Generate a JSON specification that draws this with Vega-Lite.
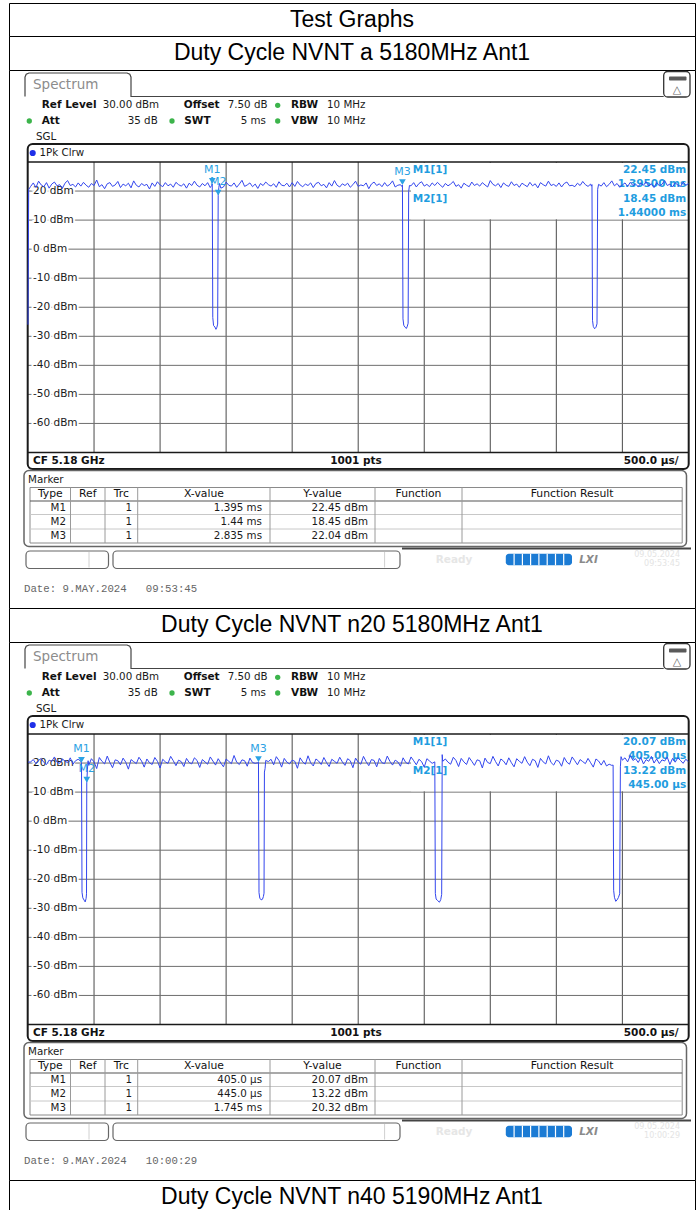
{
"$schema":"https://vega.github.io/schema/vega-lite/v6.json",
"background":"white",
"padding":{"left":8,"top":2,"right":0,"bottom":0},
"spacing":0,
"bounds":"flush",
"config":{"view":{"stroke":null},"text":{"font":"DejaVu Sans"}},
"datasets":{
"titles":[{"row":"Test Graphs"},{"row":"Duty Cycle NVNT a 5180MHz Ant1"},{"row":"Duty Cycle NVNT n20 5180MHz Ant1"},{"row":"Duty Cycle NVNT n40 5190MHz Ant1"}],
"vgrid":[{"ms":0.5},{"ms":1},{"ms":1.5},{"ms":2},{"ms":2.5},{"ms":3},{"ms":3.5},{"ms":4},{"ms":4.5}],
"hgrid":[{"dbm":20,"label":"20 dBm"},{"dbm":10,"label":"10 dBm"},{"dbm":0,"label":"0 dBm"},{"dbm":-10,"label":"-10 dBm"},{"dbm":-20,"label":"-20 dBm"},{"dbm":-30,"label":"-30 dBm"},{"dbm":-40,"label":"-40 dBm"},{"dbm":-50,"label":"-50 dBm"},{"dbm":-60,"label":"-60 dBm"}],
"infobox":[{"item":"marker info"}],
"tabline":[{"k":0,"cx":16,"cy":26.5},{"k":1,"cx":16,"cy":7},{"k":2,"cx":17.2,"cy":4.2},{"k":3,"cx":20,"cy":3},{"k":4,"cx":118,"cy":3},{"k":5,"cx":120.8,"cy":4.2},{"k":6,"cx":122,"cy":7},{"k":7,"cx":122,"cy":26.5},{"k":8,"cx":654.7,"cy":26.5}],
"boxes":[{"kind":"icon","l":654.7,"r":681,"t":1.5,"b":27},{"kind":"battery","l":660,"r":677.5,"t":6.5,"b":10.5},{"kind":"frame","l":18.7,"r":679.7,"t":74,"b":399},{"kind":"mbox","l":15,"r":677.5,"t":400.5,"b":476.5},{"kind":"table","l":21,"r":673.2,"t":417.5,"b":473},{"kind":"status","l":17,"r":99.5,"t":481,"b":498.5},{"kind":"status","l":104,"r":391,"t":481,"b":498.5},{"kind":"bar","l":496.8,"r":563,"t":483.7,"b":495.3}],
"rules":[{"kind":"sep","l":18.7,"r":679.7,"t":92,"b":92},{"kind":"sep","l":18.7,"r":679.7,"t":382.5,"b":382.5},{"kind":"thead","l":21,"r":673.2,"t":431,"b":431},{"kind":"trow","l":21,"r":673.2,"t":444.5,"b":444.5},{"kind":"trow","l":21,"r":673.2,"t":459,"b":459},{"kind":"tcol","l":61.5,"r":61.5,"t":417.5,"b":473},{"kind":"tcol","l":96,"r":96,"t":417.5,"b":473},{"kind":"tcol","l":128.7,"r":128.7,"t":417.5,"b":473},{"kind":"tcol","l":261,"r":261,"t":417.5,"b":473},{"kind":"tcol","l":366,"r":366,"t":417.5,"b":473},{"kind":"tcol","l":453,"r":453,"t":417.5,"b":473},{"kind":"sdiv","l":80,"r":80,"t":482,"b":497.5},{"kind":"sdiv","l":375.6,"r":375.6,"t":482,"b":497.5},{"kind":"sline","l":393,"r":682,"t":478.5,"b":478.5},{"kind":"bardiv","l":505.1,"r":505.1,"t":483.7,"b":495.3},{"kind":"bardiv","l":513.4,"r":513.4,"t":483.7,"b":495.3},{"kind":"bardiv","l":521.6,"r":521.6,"t":483.7,"b":495.3},{"kind":"bardiv","l":529.9,"r":529.9,"t":483.7,"b":495.3},{"kind":"bardiv","l":538.2,"r":538.2,"t":483.7,"b":495.3},{"kind":"bardiv","l":546.5,"r":546.5,"t":483.7,"b":495.3},{"kind":"bardiv","l":554.7,"r":554.7,"t":483.7,"b":495.3}],
"dots":[{"kind":"green","cx":268.7,"cy":35.3},{"kind":"green","cx":20.3,"cy":51},{"kind":"green","cx":163,"cy":51},{"kind":"green","cx":268.7,"cy":51},{"kind":"blue","cx":23.7,"cy":83}],
"texts":[
{"scr":"all","kind":"tab","text":"Spectrum","cx":24,"cy":15},
{"scr":"all","kind":"icon","text":"△","cx":668,"cy":19.5},
{"scr":"all","kind":"ib","text":"Ref Level","cx":32.7,"cy":35.3},
{"scr":"all","kind":"ib","text":"Offset","cx":174.7,"cy":35.3},
{"scr":"all","kind":"ib","text":"RBW","cx":282,"cy":35.3},
{"scr":"all","kind":"ib","text":"Att","cx":32.7,"cy":51},
{"scr":"all","kind":"ib","text":"SWT","cx":175.3,"cy":51},
{"scr":"all","kind":"ib","text":"VBW","cx":282,"cy":51},
{"scr":"all","kind":"ib","text":"CF 5.18 GHz","cx":24,"cy":391},
{"scr":"all","kind":"iv","text":"30.00 dBm","cx":93.7,"cy":35.3},
{"scr":"all","kind":"iv","text":"7.50 dB","cx":218.7,"cy":35.3},
{"scr":"all","kind":"iv","text":"10 MHz","cx":318,"cy":35.3},
{"scr":"all","kind":"iv","text":"10 MHz","cx":318,"cy":51},
{"scr":"all","kind":"iv","text":"SGL","cx":27,"cy":67},
{"scr":"all","kind":"iv","text":"1Pk Clrw","cx":30.5,"cy":83},
{"scr":"all","kind":"iv","text":"Marker","cx":19,"cy":409.5},
{"scr":"all","kind":"r","text":"35 dB","cx":148.7,"cy":51},
{"scr":"all","kind":"r","text":"5 ms","cx":257,"cy":51},
{"scr":"all","kind":"ftc","text":"1001 pts","cx":347,"cy":391},
{"scr":"all","kind":"ftr","text":"500.0 µs/","cx":669.5,"cy":391},
{"scr":"all","kind":"th","text":"Type","cx":41.3,"cy":424},
{"scr":"all","kind":"th","text":"Ref","cx":78.8,"cy":424},
{"scr":"all","kind":"th","text":"Trc","cx":112.4,"cy":424},
{"scr":"all","kind":"th","text":"X-value","cx":194.9,"cy":424},
{"scr":"all","kind":"th","text":"Y-value","cx":313.5,"cy":424},
{"scr":"all","kind":"th","text":"Function","cx":409.5,"cy":424},
{"scr":"all","kind":"th","text":"Function Result","cx":563.1,"cy":424},
{"scr":"all","kind":"r","text":"M1","cx":57,"cy":438},
{"scr":"all","kind":"r","text":"M2","cx":57,"cy":452},
{"scr":"all","kind":"r","text":"M3","cx":57,"cy":466},
{"scr":"all","kind":"r","text":"1","cx":123,"cy":438},
{"scr":"all","kind":"r","text":"1","cx":123,"cy":452},
{"scr":"all","kind":"r","text":"1","cx":123,"cy":466},
{"scr":"all","kind":"ready","text":"Ready","cx":445,"cy":489.5},
{"scr":"all","kind":"lxi","text":"LXI","cx":579.5,"cy":489.5},
{"scr":"all","kind":"sdate","text":"09.05.2024","cx":671,"cy":485},
{"scr":"all","kind":"mil","text":"M1[1]","cx":403.7,"cy":100},
{"scr":"all","kind":"mil","text":"M2[1]","cx":403.7,"cy":128.7},
{"scr":"a","kind":"r","text":"1.395 ms","cx":253,"cy":438},
{"scr":"a","kind":"r","text":"1.44 ms","cx":253,"cy":452},
{"scr":"a","kind":"r","text":"2.835 ms","cx":253,"cy":466},
{"scr":"a","kind":"r","text":"22.45 dBm","cx":359,"cy":438},
{"scr":"a","kind":"r","text":"18.45 dBm","cx":359,"cy":452},
{"scr":"a","kind":"r","text":"22.04 dBm","cx":359,"cy":466},
{"scr":"a","kind":"mir","text":"22.45 dBm","cx":677.3,"cy":100},
{"scr":"a","kind":"mir","text":"1.39500 ms","cx":677.3,"cy":114.3},
{"scr":"a","kind":"mir","text":"18.45 dBm","cx":677.3,"cy":128.7},
{"scr":"a","kind":"mir","text":"1.44000 ms","cx":677.3,"cy":143},
{"scr":"a","kind":"sdate","text":"09:53:45","cx":671,"cy":494},
{"scr":"a","kind":"date","text":"Date: 9.MAY.2024\u00a0\u00a0\u00a009:53:45","cx":15,"cy":519},
{"scr":"n20","kind":"r","text":"405.0 µs","cx":253,"cy":438},
{"scr":"n20","kind":"r","text":"445.0 µs","cx":253,"cy":452},
{"scr":"n20","kind":"r","text":"1.745 ms","cx":253,"cy":466},
{"scr":"n20","kind":"r","text":"20.07 dBm","cx":359,"cy":438},
{"scr":"n20","kind":"r","text":"13.22 dBm","cx":359,"cy":452},
{"scr":"n20","kind":"r","text":"20.32 dBm","cx":359,"cy":466},
{"scr":"n20","kind":"mir","text":"20.07 dBm","cx":677.3,"cy":100},
{"scr":"n20","kind":"mir","text":"405.00 µs","cx":677.3,"cy":114.3},
{"scr":"n20","kind":"mir","text":"13.22 dBm","cx":677.3,"cy":128.7},
{"scr":"n20","kind":"mir","text":"445.00 µs","cx":677.3,"cy":143},
{"scr":"n20","kind":"sdate","text":"10:00:29","cx":671,"cy":494},
{"scr":"n20","kind":"date","text":"Date: 9.MAY.2024\u00a0\u00a0\u00a010:00:29","cx":15,"cy":519}
],
"markers_a":[{"m":"M1","t":1.395,"v":22.45},{"m":"M2","t":1.44,"v":18.45},{"m":"M3","t":2.835,"v":22.04}],
"markers_n20":[{"m":"M1","t":0.405,"v":20.07},{"m":"M2","t":0.445,"v":13.22},{"m":"M3","t":1.745,"v":20.32}],
"trace_a":[
{"t":0,"v":-26},{"t":0.005,"v":20.5},
{"t":0.02,"v":21.6},{"t":0.04,"v":22.8},{"t":0.06,"v":21.2},{"t":0.08,"v":23.4},{"t":0.10,"v":22.1},{"t":0.12,"v":21.5},{"t":0.14,"v":22.9},{"t":0.16,"v":21.0},{"t":0.18,"v":22.4},{"t":0.20,"v":23.1},
{"t":0.22,"v":21.8},{"t":0.24,"v":22.2},{"t":0.26,"v":20.9},{"t":0.28,"v":22.7},{"t":0.30,"v":23.6},{"t":0.32,"v":21.9},{"t":0.34,"v":22.3},{"t":0.36,"v":21.4},{"t":0.38,"v":22.8},{"t":0.40,"v":21.7},
{"t":0.42,"v":23.0},{"t":0.44,"v":22.0},{"t":0.46,"v":21.3},{"t":0.48,"v":22.6},{"t":0.50,"v":21.9},{"t":0.52,"v":23.8},{"t":0.54,"v":21.5},{"t":0.56,"v":22.2},{"t":0.58,"v":20.8},{"t":0.60,"v":22.5},
{"t":0.62,"v":22.9},{"t":0.64,"v":21.6},{"t":0.66,"v":22.1},{"t":0.68,"v":23.3},{"t":0.70,"v":21.2},{"t":0.72,"v":22.4},{"t":0.74,"v":21.8},{"t":0.76,"v":22.7},{"t":0.78,"v":21.1},{"t":0.80,"v":23.5},
{"t":0.82,"v":22.0},{"t":0.84,"v":21.4},{"t":0.86,"v":22.6},{"t":0.88,"v":21.9},{"t":0.90,"v":22.3},{"t":0.92,"v":20.7},{"t":0.94,"v":22.8},{"t":0.96,"v":21.6},{"t":0.98,"v":23.2},{"t":1.00,"v":22.1},
{"t":1.02,"v":21.5},{"t":1.04,"v":22.9},{"t":1.06,"v":21.8},{"t":1.08,"v":22.4},{"t":1.10,"v":21.3},{"t":1.12,"v":23.0},{"t":1.14,"v":22.2},{"t":1.16,"v":21.7},{"t":1.18,"v":22.5},{"t":1.20,"v":21.0},
{"t":1.22,"v":22.7},{"t":1.24,"v":21.9},{"t":1.26,"v":23.4},{"t":1.28,"v":22.0},{"t":1.30,"v":21.4},{"t":1.32,"v":22.6},{"t":1.34,"v":21.8},{"t":1.36,"v":22.9},{"t":1.38,"v":21.2},
{"t":1.39,"v":21.9},{"t":1.395,"v":22.45},{"t":1.399,"v":-23.5},{"t":1.405,"v":-26.3},{"t":1.415,"v":-26.8},{"t":1.423,"v":-27.6},{"t":1.43,"v":-26.9},{"t":1.436,"v":-25.8},{"t":1.44,"v":18.45},{"t":1.445,"v":21.3},{"t":1.45,"v":22.6},
{"t":1.46,"v":21.0},{"t":1.48,"v":21.4},{"t":1.50,"v":23.1},{"t":1.52,"v":22.0},{"t":1.54,"v":21.7},{"t":1.56,"v":22.8},{"t":1.58,"v":21.3},{"t":1.60,"v":22.4},
{"t":1.62,"v":23.7},{"t":1.64,"v":21.6},{"t":1.66,"v":22.1},{"t":1.68,"v":22.8},{"t":1.70,"v":21.5},{"t":1.72,"v":22.4},{"t":1.74,"v":20.9},{"t":1.76,"v":22.6},{"t":1.78,"v":21.9},{"t":1.80,"v":23.1},
{"t":1.82,"v":22.2},{"t":1.84,"v":21.7},{"t":1.86,"v":22.5},{"t":1.88,"v":21.3},{"t":1.90,"v":23.2},{"t":1.92,"v":22.0},{"t":1.94,"v":21.8},{"t":1.96,"v":22.7},{"t":1.98,"v":21.4},{"t":2.00,"v":22.9},
{"t":2.02,"v":21.6},{"t":2.04,"v":23.3},{"t":2.06,"v":22.1},{"t":2.08,"v":21.5},{"t":2.10,"v":22.4},{"t":2.12,"v":21.9},{"t":2.14,"v":22.8},{"t":2.16,"v":21.2},{"t":2.18,"v":22.6},{"t":2.20,"v":23.0},
{"t":2.22,"v":21.8},{"t":2.24,"v":22.3},{"t":2.26,"v":21.1},{"t":2.28,"v":22.9},{"t":2.30,"v":21.7},{"t":2.32,"v":23.6},{"t":2.34,"v":22.0},{"t":2.36,"v":21.4},{"t":2.38,"v":22.5},{"t":2.40,"v":21.9},
{"t":2.42,"v":22.7},{"t":2.44,"v":21.3},{"t":2.46,"v":22.2},{"t":2.48,"v":23.4},{"t":2.50,"v":21.6},{"t":2.52,"v":22.1},{"t":2.54,"v":21.8},{"t":2.56,"v":22.8},{"t":2.58,"v":20.8},{"t":2.60,"v":22.4},
{"t":2.62,"v":23.1},{"t":2.64,"v":21.9},{"t":2.66,"v":22.5},{"t":2.68,"v":21.5},{"t":2.70,"v":22.9},{"t":2.72,"v":21.7},{"t":2.74,"v":22.3},{"t":2.76,"v":23.5},{"t":2.78,"v":21.4},{"t":2.80,"v":22.0},
{"t":2.82,"v":22.2},
{"t":2.83,"v":21.6},{"t":2.835,"v":22.04},{"t":2.839,"v":-24},{"t":2.845,"v":-26.2},{"t":2.855,"v":-26.9},{"t":2.865,"v":-27.3},{"t":2.872,"v":-26.5},{"t":2.878,"v":-25.5},{"t":2.882,"v":19.8},{"t":2.888,"v":21.9},
{"t":2.90,"v":21.8},{"t":2.92,"v":22.9},{"t":2.94,"v":21.4},{"t":2.96,"v":22.6},{"t":2.98,"v":23.2},{"t":3.00,"v":21.7},
{"t":3.02,"v":22.3},{"t":3.04,"v":21.5},{"t":3.06,"v":22.8},{"t":3.08,"v":21.9},{"t":3.10,"v":23.0},{"t":3.12,"v":22.1},{"t":3.14,"v":21.3},{"t":3.16,"v":22.6},{"t":3.18,"v":21.8},{"t":3.20,"v":22.4},
{"t":3.22,"v":23.3},{"t":3.24,"v":21.6},{"t":3.26,"v":22.2},{"t":3.28,"v":21.0},{"t":3.30,"v":22.7},{"t":3.32,"v":22.0},{"t":3.34,"v":21.5},{"t":3.36,"v":23.1},{"t":3.38,"v":21.9},{"t":3.40,"v":22.5},
{"t":3.42,"v":21.7},{"t":3.44,"v":22.9},{"t":3.46,"v":22.1},{"t":3.48,"v":21.4},{"t":3.50,"v":23.6},{"t":3.52,"v":22.3},{"t":3.54,"v":21.8},{"t":3.56,"v":22.6},{"t":3.58,"v":21.2},{"t":3.60,"v":22.8},
{"t":3.62,"v":22.0},{"t":3.64,"v":21.6},{"t":3.66,"v":23.2},{"t":3.68,"v":21.9},{"t":3.70,"v":22.4},{"t":3.72,"v":21.3},{"t":3.74,"v":22.7},{"t":3.76,"v":22.1},{"t":3.78,"v":21.5},{"t":3.80,"v":23.0},
{"t":3.82,"v":21.8},{"t":3.84,"v":22.5},{"t":3.86,"v":21.1},{"t":3.88,"v":22.9},{"t":3.90,"v":22.2},{"t":3.92,"v":21.7},{"t":3.94,"v":23.4},{"t":3.96,"v":21.9},{"t":3.98,"v":22.3},{"t":4.00,"v":21.6},
{"t":4.02,"v":22.8},{"t":4.04,"v":21.4},{"t":4.06,"v":22.6},{"t":4.08,"v":23.1},{"t":4.10,"v":21.8},{"t":4.12,"v":22.0},{"t":4.14,"v":21.5},{"t":4.16,"v":22.7},{"t":4.18,"v":21.9},{"t":4.20,"v":23.3},
{"t":4.22,"v":22.2},{"t":4.24,"v":21.6},{"t":4.26,"v":22.4},
{"t":4.265,"v":21.7},{"t":4.27,"v":22.2},{"t":4.274,"v":-24.5},{"t":4.28,"v":-26.6},{"t":4.29,"v":-27.4},{"t":4.30,"v":-26.9},{"t":4.308,"v":-25.7},{"t":4.313,"v":20.6},{"t":4.32,"v":22.3},
{"t":4.34,"v":21.7},{"t":4.36,"v":22.9},{"t":4.38,"v":21.5},{"t":4.40,"v":22.3},
{"t":4.42,"v":23.5},{"t":4.44,"v":21.8},{"t":4.46,"v":22.6},{"t":4.48,"v":21.3},{"t":4.50,"v":22.1},{"t":4.52,"v":22.8},{"t":4.54,"v":21.6},{"t":4.56,"v":23.0},{"t":4.58,"v":21.9},{"t":4.60,"v":22.4},
{"t":4.62,"v":21.5},{"t":4.64,"v":22.7},{"t":4.66,"v":22.0},{"t":4.68,"v":23.2},{"t":4.70,"v":21.7},{"t":4.72,"v":22.5},{"t":4.74,"v":21.2},{"t":4.76,"v":22.9},{"t":4.78,"v":21.8},{"t":4.80,"v":22.3},
{"t":4.82,"v":23.6},{"t":4.84,"v":21.9},{"t":4.86,"v":22.4},{"t":4.88,"v":21.4},{"t":4.90,"v":22.8},{"t":4.92,"v":22.1},{"t":4.94,"v":21.6},{"t":4.96,"v":23.1},{"t":4.98,"v":22.0},{"t":5.00,"v":22.5}
],
"trace_n20":[
{"t":0,"v":20.3},
{"t":0.02,"v":20.4},{"t":0.04,"v":21.2},{"t":0.06,"v":19.8},{"t":0.08,"v":20.9},{"t":0.10,"v":21.6},{"t":0.12,"v":20.2},{"t":0.14,"v":19.5},{"t":0.16,"v":21.0},{"t":0.18,"v":20.6},{"t":0.20,"v":22.1},
{"t":0.22,"v":20.3},{"t":0.24,"v":19.9},{"t":0.26,"v":21.4},{"t":0.28,"v":20.7},{"t":0.30,"v":20.1},{"t":0.32,"v":21.8},{"t":0.34,"v":19.6},{"t":0.36,"v":20.8},{"t":0.38,"v":21.3},
{"t":0.40,"v":20.6},{"t":0.405,"v":20.07},{"t":0.409,"v":-24.5},{"t":0.415,"v":-26.4},{"t":0.425,"v":-27.2},{"t":0.433,"v":-27.8},{"t":0.44,"v":-26.6},{"t":0.443,"v":-25},{"t":0.445,"v":13.22},{"t":0.45,"v":17.9},{"t":0.455,"v":20.8},
{"t":0.46,"v":19.2},{"t":0.48,"v":21.5},{"t":0.50,"v":20.4},{"t":0.52,"v":18.1},{"t":0.54,"v":21.9},{"t":0.56,"v":20.6},{"t":0.58,"v":19.7},{"t":0.60,"v":22.4},
{"t":0.62,"v":20.2},{"t":0.64,"v":18.4},{"t":0.66,"v":21.1},{"t":0.68,"v":20.8},{"t":0.70,"v":19.4},{"t":0.72,"v":21.7},{"t":0.74,"v":20.3},{"t":0.76,"v":17.9},{"t":0.78,"v":21.2},{"t":0.80,"v":20.5},
{"t":0.82,"v":19.8},{"t":0.84,"v":22.0},{"t":0.86,"v":20.7},{"t":0.88,"v":18.6},{"t":0.90,"v":21.4},{"t":0.92,"v":20.1},{"t":0.94,"v":19.5},{"t":0.96,"v":21.9},{"t":0.98,"v":20.6},{"t":1.00,"v":18.3},
{"t":1.02,"v":21.3},{"t":1.04,"v":20.4},{"t":1.06,"v":19.9},{"t":1.08,"v":22.3},{"t":1.10,"v":20.8},{"t":1.12,"v":19.1},{"t":1.14,"v":21.0},{"t":1.16,"v":20.5},{"t":1.18,"v":18.8},{"t":1.20,"v":21.6},
{"t":1.22,"v":20.2},{"t":1.24,"v":19.7},{"t":1.26,"v":21.8},{"t":1.28,"v":20.9},{"t":1.30,"v":18.5},{"t":1.32,"v":21.2},{"t":1.34,"v":20.4},{"t":1.36,"v":19.6},{"t":1.38,"v":22.1},{"t":1.40,"v":20.7},
{"t":1.42,"v":19.3},{"t":1.44,"v":21.5},{"t":1.46,"v":20.0},{"t":1.48,"v":18.7},{"t":1.50,"v":21.4},{"t":1.52,"v":20.6},{"t":1.54,"v":19.8},{"t":1.56,"v":22.6},{"t":1.58,"v":20.3},{"t":1.60,"v":19.5},
{"t":1.62,"v":21.1},{"t":1.64,"v":20.8},{"t":1.66,"v":18.9},{"t":1.68,"v":21.7},{"t":1.70,"v":20.2},{"t":1.72,"v":19.9},
{"t":1.74,"v":20.1},{"t":1.745,"v":20.32},{"t":1.749,"v":-24.6},{"t":1.755,"v":-26.5},{"t":1.765,"v":-27.1},{"t":1.775,"v":-26.9},{"t":1.782,"v":-26.0},{"t":1.787,"v":-24.8},{"t":1.79,"v":16.9},{"t":1.795,"v":18.1},{"t":1.80,"v":20.9},
{"t":1.82,"v":20.5},{"t":1.84,"v":21.3},{"t":1.86,"v":19.4},{"t":1.88,"v":22.2},{"t":1.90,"v":20.9},{"t":1.92,"v":18.6},{"t":1.94,"v":21.6},{"t":1.96,"v":20.3},{"t":1.98,"v":19.7},{"t":2.00,"v":21.0},
{"t":2.02,"v":20.6},{"t":2.04,"v":18.2},{"t":2.06,"v":21.8},{"t":2.08,"v":20.4},{"t":2.10,"v":19.6},{"t":2.12,"v":22.5},{"t":2.14,"v":20.1},{"t":2.16,"v":19.0},{"t":2.18,"v":21.4},{"t":2.20,"v":20.7},
{"t":2.22,"v":19.5},{"t":2.24,"v":21.9},{"t":2.26,"v":20.2},{"t":2.28,"v":18.8},{"t":2.30,"v":21.3},{"t":2.32,"v":20.6},{"t":2.34,"v":19.9},{"t":2.36,"v":22.0},{"t":2.38,"v":20.4},{"t":2.40,"v":19.2},
{"t":2.42,"v":21.5},{"t":2.44,"v":20.8},{"t":2.46,"v":18.4},{"t":2.48,"v":21.7},{"t":2.50,"v":20.3},{"t":2.52,"v":19.6},{"t":2.54,"v":22.3},{"t":2.56,"v":20.5},{"t":2.58,"v":19.1},{"t":2.60,"v":21.2},
{"t":2.62,"v":20.9},{"t":2.64,"v":18.7},{"t":2.66,"v":21.6},{"t":2.68,"v":20.1},{"t":2.70,"v":19.8},{"t":2.72,"v":22.4},{"t":2.74,"v":20.6},{"t":2.76,"v":19.3},{"t":2.78,"v":21.0},{"t":2.80,"v":20.4},
{"t":2.82,"v":18.9},{"t":2.84,"v":21.8},{"t":2.86,"v":20.2},{"t":2.88,"v":19.7},{"t":2.90,"v":22.1},{"t":2.92,"v":20.8},{"t":2.94,"v":19.4},{"t":2.96,"v":21.3},{"t":2.98,"v":20.5},{"t":3.00,"v":18.6},
{"t":3.02,"v":21.5},{"t":3.04,"v":20.7},{"t":3.06,"v":19.9},
{"t":3.08,"v":20.4},{"t":3.084,"v":-24.9},{"t":3.09,"v":-26.8},{"t":3.10,"v":-27.3},{"t":3.115,"v":-27.9},{"t":3.125,"v":-27.0},{"t":3.132,"v":-25.2},{"t":3.136,"v":22.9},{"t":3.14,"v":20.6},
{"t":3.16,"v":21.4},{"t":3.18,"v":20.3},{"t":3.20,"v":19.6},
{"t":3.22,"v":22.0},{"t":3.24,"v":20.9},{"t":3.26,"v":18.8},{"t":3.28,"v":21.6},{"t":3.30,"v":20.4},{"t":3.32,"v":19.5},{"t":3.34,"v":21.9},{"t":3.36,"v":20.6},{"t":3.38,"v":19.2},{"t":3.40,"v":21.1},
{"t":3.42,"v":20.8},{"t":3.44,"v":18.3},{"t":3.46,"v":21.7},{"t":3.48,"v":20.2},{"t":3.50,"v":19.8},{"t":3.52,"v":22.3},{"t":3.54,"v":20.5},{"t":3.56,"v":19.0},{"t":3.58,"v":21.4},{"t":3.60,"v":20.7},
{"t":3.62,"v":19.4},{"t":3.64,"v":21.8},{"t":3.66,"v":20.1},{"t":3.68,"v":18.7},{"t":3.70,"v":21.5},{"t":3.72,"v":20.6},{"t":3.74,"v":19.9},{"t":3.76,"v":22.2},{"t":3.78,"v":20.3},{"t":3.80,"v":19.1},
{"t":3.82,"v":21.3},{"t":3.84,"v":20.8},{"t":3.86,"v":18.5},{"t":3.88,"v":21.6},{"t":3.90,"v":20.4},{"t":3.92,"v":19.7},{"t":3.94,"v":22.5},{"t":3.96,"v":20.2},{"t":3.98,"v":19.3},{"t":4.00,"v":21.0},
{"t":4.02,"v":20.6},{"t":4.04,"v":18.9},{"t":4.06,"v":21.9},{"t":4.08,"v":20.3},{"t":4.10,"v":19.6},{"t":4.12,"v":22.1},{"t":4.14,"v":20.8},{"t":4.16,"v":19.4},{"t":4.18,"v":21.2},{"t":4.20,"v":20.5},
{"t":4.22,"v":19.8},{"t":4.24,"v":21.6},{"t":4.26,"v":20.1},{"t":4.28,"v":18.6},{"t":4.30,"v":21.4},{"t":4.32,"v":20.7},{"t":4.34,"v":19.3},{"t":4.36,"v":20.9},{"t":4.38,"v":19.0},{"t":4.40,"v":19.6},{"t":4.42,"v":19.2},
{"t":4.43,"v":19.3},{"t":4.434,"v":-23.8},{"t":4.44,"v":-26.2},{"t":4.45,"v":-27.6},{"t":4.46,"v":-27.1},{"t":4.47,"v":-26.3},{"t":4.48,"v":-25},{"t":4.485,"v":18.7},{"t":4.49,"v":22.2},{"t":4.50,"v":21.0},
{"t":4.52,"v":21.8},{"t":4.54,"v":20.4},{"t":4.56,"v":22.6},{"t":4.58,"v":20.9},{"t":4.60,"v":21.5},
{"t":4.62,"v":20.2},{"t":4.64,"v":21.9},{"t":4.66,"v":19.7},{"t":4.68,"v":21.2},{"t":4.70,"v":20.6},{"t":4.72,"v":22.3},{"t":4.74,"v":20.0},{"t":4.76,"v":21.4},{"t":4.78,"v":19.8},{"t":4.80,"v":21.1},
{"t":4.82,"v":20.7},{"t":4.84,"v":22.0},{"t":4.86,"v":19.5},{"t":4.88,"v":21.6},{"t":4.90,"v":20.3},{"t":4.92,"v":21.8},{"t":4.94,"v":20.9},{"t":4.96,"v":19.9},{"t":4.98,"v":21.3},{"t":5.00,"v":20.5}
]
},
"vconcat":[
{"width":686,"height":33,"view":{"stroke":"#000","strokeWidth":1},"data":{"name":"titles"},"transform":[{"filter":"datum.row=='Test Graphs'"}],"mark":{"type":"text","font":"Liberation Sans","fontSize":23,"baseline":"middle","color":"#000"},"encoding":{"x":{"field":"row","type":"nominal","axis":null},"y":{"field":"row","type":"nominal","axis":null},"text":{"field":"row"}}},
{"width":686,"height":34,"view":{"stroke":"#000","strokeWidth":1},"data":{"name":"titles"},"transform":[{"filter":"datum.row=='Duty Cycle NVNT a 5180MHz Ant1'"}],"mark":{"type":"text","font":"Liberation Sans","fontSize":23,"baseline":"middle","color":"#000"},"encoding":{"x":{"field":"row","type":"nominal","axis":null},"y":{"field":"row","type":"nominal","axis":null},"text":{"field":"row"}}},
{"width":686,"height":538,
"view":{"stroke":"#000","strokeWidth":1,"strokeDash":[0,686,538,686,538]},
"resolve":{"scale":{"x":"independent","y":"independent"}},
"layer":[
{"data":{"name":"vgrid"},"mark":{"type":"rule","color":"#4a4a4a","strokeWidth":1},"encoding":{"x":{"field":"ms","type":"quantitative","scale":{"domain":[0,5],"range":[19,679.4],"nice":false,"zero":false},"axis":null},"y":{"datum":-70,"type":"quantitative","scale":{"domain":[-70,30],"range":[382.5,92],"nice":false,"zero":false},"axis":null},"y2":{"datum":30}}},
{"data":{"name":"hgrid"},"mark":{"type":"rule","color":"#6e6e6e","strokeWidth":1},"encoding":{"y":{"field":"dbm","type":"quantitative","scale":{"domain":[-70,30],"range":[382.5,92],"nice":false,"zero":false},"axis":null},"x":{"datum":0,"type":"quantitative","scale":{"domain":[0,5],"range":[19,679.4],"nice":false,"zero":false},"axis":null},"x2":{"datum":5}}},
{"data":{"name":"infobox"},"mark":{"type":"rect","color":"#ffffff"},"encoding":{"x":{"datum":2.9,"type":"quantitative","scale":{"domain":[0,5],"range":[19,679.4],"nice":false,"zero":false},"axis":null},"x2":{"datum":5},"y":{"datum":10.3,"type":"quantitative","scale":{"domain":[-70,30],"range":[382.5,92],"nice":false,"zero":false},"axis":null},"y2":{"datum":29.7}}},
{"data":{"name":"hgrid"},"mark":{"type":"text","align":"left","baseline":"middle","dx":5,"fontSize":10.5,"stroke":"#ffffff","strokeWidth":4,"fill":"#ffffff"},"encoding":{"x":{"datum":0,"type":"quantitative","scale":{"domain":[0,5],"range":[19,679.4],"nice":false,"zero":false},"axis":null},"y":{"field":"dbm","type":"quantitative","scale":{"domain":[-70,30],"range":[382.5,92],"nice":false,"zero":false},"axis":null},"text":{"field":"label"}}},
{"data":{"name":"hgrid"},"mark":{"type":"text","align":"left","baseline":"middle","dx":5,"fontSize":10.5,"fill":"#1a1a1a"},"encoding":{"x":{"datum":0,"type":"quantitative","scale":{"domain":[0,5],"range":[19,679.4],"nice":false,"zero":false},"axis":null},"y":{"field":"dbm","type":"quantitative","scale":{"domain":[-70,30],"range":[382.5,92],"nice":false,"zero":false},"axis":null},"text":{"field":"label"}}},
{"data":{"name":"tabline"},"mark":{"type":"line","color":"#444444","strokeWidth":1.2},"encoding":{"x":{"field":"cx","type":"quantitative","scale":{"domain":[0,686],"range":[0,686],"nice":false,"zero":false},"axis":null},"y":{"field":"cy","type":"quantitative","scale":{"domain":[0,538],"range":[0,538],"nice":false,"zero":false},"axis":null},"order":{"field":"k"}}},
{"data":{"name":"boxes"},"transform":[{"filter":"datum.kind=='icon'"}],"mark":{"type":"rect","fill":"#ffffff","stroke":"#333333","strokeWidth":1.3,"cornerRadius":4},"encoding":{"x":{"field":"l","type":"quantitative","scale":{"domain":[0,686],"range":[0,686],"nice":false,"zero":false},"axis":null},"x2":{"field":"r"},"y":{"field":"t","type":"quantitative","scale":{"domain":[0,538],"range":[0,538],"nice":false,"zero":false},"axis":null},"y2":{"field":"b"}}},
{"data":{"name":"boxes"},"transform":[{"filter":"datum.kind=='battery'"}],"mark":{"type":"rect","color":"#5a5a5a","cornerRadius":1},"encoding":{"x":{"field":"l","type":"quantitative","scale":{"domain":[0,686],"range":[0,686],"nice":false,"zero":false},"axis":null},"x2":{"field":"r"},"y":{"field":"t","type":"quantitative","scale":{"domain":[0,538],"range":[0,538],"nice":false,"zero":false},"axis":null},"y2":{"field":"b"}}},
{"data":{"name":"boxes"},"transform":[{"filter":"datum.kind=='frame'"}],"mark":{"type":"rect","filled":false,"color":"#1a1a1a","strokeWidth":2,"cornerRadius":5},"encoding":{"x":{"field":"l","type":"quantitative","scale":{"domain":[0,686],"range":[0,686],"nice":false,"zero":false},"axis":null},"x2":{"field":"r"},"y":{"field":"t","type":"quantitative","scale":{"domain":[0,538],"range":[0,538],"nice":false,"zero":false},"axis":null},"y2":{"field":"b"}}},
{"data":{"name":"boxes"},"transform":[{"filter":"datum.kind=='mbox'"}],"mark":{"type":"rect","filled":false,"color":"#666666","strokeWidth":1.5,"cornerRadius":5},"encoding":{"x":{"field":"l","type":"quantitative","scale":{"domain":[0,686],"range":[0,686],"nice":false,"zero":false},"axis":null},"x2":{"field":"r"},"y":{"field":"t","type":"quantitative","scale":{"domain":[0,538],"range":[0,538],"nice":false,"zero":false},"axis":null},"y2":{"field":"b"}}},
{"data":{"name":"boxes"},"transform":[{"filter":"datum.kind=='table'"}],"mark":{"type":"rect","filled":false,"color":"#8a8a8a","strokeWidth":1},"encoding":{"x":{"field":"l","type":"quantitative","scale":{"domain":[0,686],"range":[0,686],"nice":false,"zero":false},"axis":null},"x2":{"field":"r"},"y":{"field":"t","type":"quantitative","scale":{"domain":[0,538],"range":[0,538],"nice":false,"zero":false},"axis":null},"y2":{"field":"b"}}},
{"data":{"name":"boxes"},"transform":[{"filter":"datum.kind=='status'"}],"mark":{"type":"rect","filled":false,"color":"#666666","strokeWidth":1.2,"cornerRadius":4},"encoding":{"x":{"field":"l","type":"quantitative","scale":{"domain":[0,686],"range":[0,686],"nice":false,"zero":false},"axis":null},"x2":{"field":"r"},"y":{"field":"t","type":"quantitative","scale":{"domain":[0,538],"range":[0,538],"nice":false,"zero":false},"axis":null},"y2":{"field":"b"}}},
{"data":{"name":"boxes"},"transform":[{"filter":"datum.kind=='bar'"}],"mark":{"type":"rect","color":"#1b7bd4","cornerRadius":3},"encoding":{"x":{"field":"l","type":"quantitative","scale":{"domain":[0,686],"range":[0,686],"nice":false,"zero":false},"axis":null},"x2":{"field":"r"},"y":{"field":"t","type":"quantitative","scale":{"domain":[0,538],"range":[0,538],"nice":false,"zero":false},"axis":null},"y2":{"field":"b"}}},
{"data":{"name":"rules"},"transform":[{"filter":"datum.kind=='sep'"}],"mark":{"type":"rule","color":"#1a1a1a","strokeWidth":1.5},"encoding":{"x":{"field":"l","type":"quantitative","scale":{"domain":[0,686],"range":[0,686],"nice":false,"zero":false},"axis":null},"x2":{"field":"r"},"y":{"field":"t","type":"quantitative","scale":{"domain":[0,538],"range":[0,538],"nice":false,"zero":false},"axis":null},"y2":{"field":"b"}}},
{"data":{"name":"rules"},"transform":[{"filter":"datum.kind=='thead'"}],"mark":{"type":"rule","color":"#555555","strokeWidth":1.2},"encoding":{"x":{"field":"l","type":"quantitative","scale":{"domain":[0,686],"range":[0,686],"nice":false,"zero":false},"axis":null},"x2":{"field":"r"},"y":{"field":"t","type":"quantitative","scale":{"domain":[0,538],"range":[0,538],"nice":false,"zero":false},"axis":null},"y2":{"field":"b"}}},
{"data":{"name":"rules"},"transform":[{"filter":"datum.kind=='trow'"}],"mark":{"type":"rule","color":"#c8c8c8","strokeWidth":1},"encoding":{"x":{"field":"l","type":"quantitative","scale":{"domain":[0,686],"range":[0,686],"nice":false,"zero":false},"axis":null},"x2":{"field":"r"},"y":{"field":"t","type":"quantitative","scale":{"domain":[0,538],"range":[0,538],"nice":false,"zero":false},"axis":null},"y2":{"field":"b"}}},
{"data":{"name":"rules"},"transform":[{"filter":"datum.kind=='tcol'"}],"mark":{"type":"rule","color":"#9a9a9a","strokeWidth":1},"encoding":{"x":{"field":"l","type":"quantitative","scale":{"domain":[0,686],"range":[0,686],"nice":false,"zero":false},"axis":null},"x2":{"field":"r"},"y":{"field":"t","type":"quantitative","scale":{"domain":[0,538],"range":[0,538],"nice":false,"zero":false},"axis":null},"y2":{"field":"b"}}},
{"data":{"name":"rules"},"transform":[{"filter":"datum.kind=='sdiv'"}],"mark":{"type":"rule","color":"#d0d0d0","strokeWidth":1},"encoding":{"x":{"field":"l","type":"quantitative","scale":{"domain":[0,686],"range":[0,686],"nice":false,"zero":false},"axis":null},"x2":{"field":"r"},"y":{"field":"t","type":"quantitative","scale":{"domain":[0,538],"range":[0,538],"nice":false,"zero":false},"axis":null},"y2":{"field":"b"}}},
{"data":{"name":"rules"},"transform":[{"filter":"datum.kind=='sline'"}],"mark":{"type":"rule","color":"#444444","strokeWidth":2},"encoding":{"x":{"field":"l","type":"quantitative","scale":{"domain":[0,686],"range":[0,686],"nice":false,"zero":false},"axis":null},"x2":{"field":"r"},"y":{"field":"t","type":"quantitative","scale":{"domain":[0,538],"range":[0,538],"nice":false,"zero":false},"axis":null},"y2":{"field":"b"}}},
{"data":{"name":"rules"},"transform":[{"filter":"datum.kind=='bardiv'"}],"mark":{"type":"rule","color":"#ffffff","strokeWidth":1.2},"encoding":{"x":{"field":"l","type":"quantitative","scale":{"domain":[0,686],"range":[0,686],"nice":false,"zero":false},"axis":null},"x2":{"field":"r"},"y":{"field":"t","type":"quantitative","scale":{"domain":[0,538],"range":[0,538],"nice":false,"zero":false},"axis":null},"y2":{"field":"b"}}},
{"data":{"name":"dots"},"transform":[{"filter":"datum.kind=='green'"}],"mark":{"type":"point","shape":"circle","filled":true,"color":"#3cb44b","size":28,"opacity":1},"encoding":{"x":{"field":"cx","type":"quantitative","scale":{"domain":[0,686],"range":[0,686],"nice":false,"zero":false},"axis":null},"y":{"field":"cy","type":"quantitative","scale":{"domain":[0,538],"range":[0,538],"nice":false,"zero":false},"axis":null}}},
{"data":{"name":"dots"},"transform":[{"filter":"datum.kind=='blue'"}],"mark":{"type":"point","shape":"circle","filled":true,"color":"#1f2fe8","size":38,"opacity":1},"encoding":{"x":{"field":"cx","type":"quantitative","scale":{"domain":[0,686],"range":[0,686],"nice":false,"zero":false},"axis":null},"y":{"field":"cy","type":"quantitative","scale":{"domain":[0,538],"range":[0,538],"nice":false,"zero":false},"axis":null}}},
{"data":{"name":"texts"},"transform":[{"filter":"(datum.scr=='all'||datum.scr=='a')&&datum.kind=='tab'"}],"mark":{"type":"text","align":"left","baseline":"middle","fontSize":13.5,"color":"#8c8c8c"},"encoding":{"x":{"field":"cx","type":"quantitative","scale":{"domain":[0,686],"range":[0,686],"nice":false,"zero":false},"axis":null},"y":{"field":"cy","type":"quantitative","scale":{"domain":[0,538],"range":[0,538],"nice":false,"zero":false},"axis":null},"text":{"field":"text"}}},
{"data":{"name":"texts"},"transform":[{"filter":"(datum.scr=='all'||datum.scr=='a')&&datum.kind=='icon'"}],"mark":{"type":"text","align":"center","baseline":"middle","fontSize":11,"color":"#666666"},"encoding":{"x":{"field":"cx","type":"quantitative","scale":{"domain":[0,686],"range":[0,686],"nice":false,"zero":false},"axis":null},"y":{"field":"cy","type":"quantitative","scale":{"domain":[0,538],"range":[0,538],"nice":false,"zero":false},"axis":null},"text":{"field":"text"}}},
{"data":{"name":"texts"},"transform":[{"filter":"(datum.scr=='all'||datum.scr=='a')&&datum.kind=='ib'"}],"mark":{"type":"text","align":"left","baseline":"middle","fontSize":10.5,"fontWeight":"bold","color":"#111111"},"encoding":{"x":{"field":"cx","type":"quantitative","scale":{"domain":[0,686],"range":[0,686],"nice":false,"zero":false},"axis":null},"y":{"field":"cy","type":"quantitative","scale":{"domain":[0,538],"range":[0,538],"nice":false,"zero":false},"axis":null},"text":{"field":"text"}}},
{"data":{"name":"texts"},"transform":[{"filter":"(datum.scr=='all'||datum.scr=='a')&&datum.kind=='iv'"}],"mark":{"type":"text","align":"left","baseline":"middle","fontSize":10.3,"color":"#1a1a1a"},"encoding":{"x":{"field":"cx","type":"quantitative","scale":{"domain":[0,686],"range":[0,686],"nice":false,"zero":false},"axis":null},"y":{"field":"cy","type":"quantitative","scale":{"domain":[0,538],"range":[0,538],"nice":false,"zero":false},"axis":null},"text":{"field":"text"}}},
{"data":{"name":"texts"},"transform":[{"filter":"(datum.scr=='all'||datum.scr=='a')&&datum.kind=='r'"}],"mark":{"type":"text","align":"right","baseline":"middle","fontSize":10.3,"color":"#1a1a1a"},"encoding":{"x":{"field":"cx","type":"quantitative","scale":{"domain":[0,686],"range":[0,686],"nice":false,"zero":false},"axis":null},"y":{"field":"cy","type":"quantitative","scale":{"domain":[0,538],"range":[0,538],"nice":false,"zero":false},"axis":null},"text":{"field":"text"}}},
{"data":{"name":"texts"},"transform":[{"filter":"(datum.scr=='all'||datum.scr=='a')&&datum.kind=='ftc'"}],"mark":{"type":"text","align":"center","baseline":"middle","fontSize":10.5,"fontWeight":"bold","color":"#111111"},"encoding":{"x":{"field":"cx","type":"quantitative","scale":{"domain":[0,686],"range":[0,686],"nice":false,"zero":false},"axis":null},"y":{"field":"cy","type":"quantitative","scale":{"domain":[0,538],"range":[0,538],"nice":false,"zero":false},"axis":null},"text":{"field":"text"}}},
{"data":{"name":"texts"},"transform":[{"filter":"(datum.scr=='all'||datum.scr=='a')&&datum.kind=='ftr'"}],"mark":{"type":"text","align":"right","baseline":"middle","fontSize":10.5,"fontWeight":"bold","color":"#111111"},"encoding":{"x":{"field":"cx","type":"quantitative","scale":{"domain":[0,686],"range":[0,686],"nice":false,"zero":false},"axis":null},"y":{"field":"cy","type":"quantitative","scale":{"domain":[0,538],"range":[0,538],"nice":false,"zero":false},"axis":null},"text":{"field":"text"}}},
{"data":{"name":"texts"},"transform":[{"filter":"(datum.scr=='all'||datum.scr=='a')&&datum.kind=='th'"}],"mark":{"type":"text","align":"center","baseline":"middle","fontSize":10.8,"color":"#111111"},"encoding":{"x":{"field":"cx","type":"quantitative","scale":{"domain":[0,686],"range":[0,686],"nice":false,"zero":false},"axis":null},"y":{"field":"cy","type":"quantitative","scale":{"domain":[0,538],"range":[0,538],"nice":false,"zero":false},"axis":null},"text":{"field":"text"}}},
{"data":{"name":"texts"},"transform":[{"filter":"(datum.scr=='all'||datum.scr=='a')&&datum.kind=='ready'"}],"mark":{"type":"text","align":"center","baseline":"middle","fontSize":10.5,"fontWeight":"bold","color":"#e6e6e6"},"encoding":{"x":{"field":"cx","type":"quantitative","scale":{"domain":[0,686],"range":[0,686],"nice":false,"zero":false},"axis":null},"y":{"field":"cy","type":"quantitative","scale":{"domain":[0,538],"range":[0,538],"nice":false,"zero":false},"axis":null},"text":{"field":"text"}}},
{"data":{"name":"texts"},"transform":[{"filter":"(datum.scr=='all'||datum.scr=='a')&&datum.kind=='lxi'"}],"mark":{"type":"text","align":"center","baseline":"middle","fontSize":10.5,"fontWeight":"bold","fontStyle":"italic","color":"#8a8a8a"},"encoding":{"x":{"field":"cx","type":"quantitative","scale":{"domain":[0,686],"range":[0,686],"nice":false,"zero":false},"axis":null},"y":{"field":"cy","type":"quantitative","scale":{"domain":[0,538],"range":[0,538],"nice":false,"zero":false},"axis":null},"text":{"field":"text"}}},
{"data":{"name":"texts"},"transform":[{"filter":"(datum.scr=='all'||datum.scr=='a')&&datum.kind=='sdate'"}],"mark":{"type":"text","align":"right","baseline":"middle","fontSize":8,"color":"#e4e4e4"},"encoding":{"x":{"field":"cx","type":"quantitative","scale":{"domain":[0,686],"range":[0,686],"nice":false,"zero":false},"axis":null},"y":{"field":"cy","type":"quantitative","scale":{"domain":[0,538],"range":[0,538],"nice":false,"zero":false},"axis":null},"text":{"field":"text"}}},
{"data":{"name":"texts"},"transform":[{"filter":"(datum.scr=='all'||datum.scr=='a')&&datum.kind=='date'"}],"mark":{"type":"text","align":"left","baseline":"middle","font":"Liberation Mono","fontSize":10.7,"color":"#666666"},"encoding":{"x":{"field":"cx","type":"quantitative","scale":{"domain":[0,686],"range":[0,686],"nice":false,"zero":false},"axis":null},"y":{"field":"cy","type":"quantitative","scale":{"domain":[0,538],"range":[0,538],"nice":false,"zero":false},"axis":null},"text":{"field":"text"}}},
{"data":{"name":"texts"},"transform":[{"filter":"(datum.scr=='all'||datum.scr=='a')&&datum.kind=='mil'"}],"mark":{"type":"text","align":"left","baseline":"middle","fontSize":10.5,"fontWeight":"bold","color":"#1f9de0"},"encoding":{"x":{"field":"cx","type":"quantitative","scale":{"domain":[0,686],"range":[0,686],"nice":false,"zero":false},"axis":null},"y":{"field":"cy","type":"quantitative","scale":{"domain":[0,538],"range":[0,538],"nice":false,"zero":false},"axis":null},"text":{"field":"text"}}},
{"data":{"name":"texts"},"transform":[{"filter":"(datum.scr=='all'||datum.scr=='a')&&datum.kind=='mir'"}],"mark":{"type":"text","align":"right","baseline":"middle","fontSize":10.5,"fontWeight":"bold","color":"#1f9de0"},"encoding":{"x":{"field":"cx","type":"quantitative","scale":{"domain":[0,686],"range":[0,686],"nice":false,"zero":false},"axis":null},"y":{"field":"cy","type":"quantitative","scale":{"domain":[0,538],"range":[0,538],"nice":false,"zero":false},"axis":null},"text":{"field":"text"}}},
{"data":{"name":"trace_a"},"mark":{"type":"line","color":"#3346ee","strokeWidth":1},"encoding":{"x":{"field":"t","type":"quantitative","scale":{"domain":[0,5],"range":[19,679.4],"nice":false,"zero":false},"axis":null},"y":{"field":"v","type":"quantitative","scale":{"domain":[-70,30],"range":[382.5,92],"nice":false,"zero":false},"axis":null}}},
{"data":{"name":"markers_a"},"mark":{"type":"point","shape":"triangle-down","filled":true,"color":"#2ba2e4","size":45,"opacity":1,"yOffset":-3},"encoding":{"x":{"field":"t","type":"quantitative","scale":{"domain":[0,5],"range":[19,679.4],"nice":false,"zero":false},"axis":null},"y":{"field":"v","type":"quantitative","scale":{"domain":[-70,30],"range":[382.5,92],"nice":false,"zero":false},"axis":null}}},
{"data":{"name":"markers_a"},"mark":{"type":"text","color":"#2ba2e4","fontSize":11,"dy":-13.5,"baseline":"middle","align":"center"},"encoding":{"x":{"field":"t","type":"quantitative","scale":{"domain":[0,5],"range":[19,679.4],"nice":false,"zero":false},"axis":null},"y":{"field":"v","type":"quantitative","scale":{"domain":[-70,30],"range":[382.5,92],"nice":false,"zero":false},"axis":null},"text":{"field":"m"}}}
]},
{"width":686,"height":34,"view":{"stroke":"#000","strokeWidth":1},"data":{"name":"titles"},"transform":[{"filter":"datum.row=='Duty Cycle NVNT n20 5180MHz Ant1'"}],"mark":{"type":"text","font":"Liberation Sans","fontSize":23,"baseline":"middle","color":"#000"},"encoding":{"x":{"field":"row","type":"nominal","axis":null},"y":{"field":"row","type":"nominal","axis":null},"text":{"field":"row"}}},
{"width":686,"height":538,
"view":{"stroke":"#000","strokeWidth":1,"strokeDash":[0,686,538,686,538]},
"resolve":{"scale":{"x":"independent","y":"independent"}},
"layer":[
{"data":{"name":"vgrid"},"mark":{"type":"rule","color":"#4a4a4a","strokeWidth":1},"encoding":{"x":{"field":"ms","type":"quantitative","scale":{"domain":[0,5],"range":[19,679.4],"nice":false,"zero":false},"axis":null},"y":{"datum":-70,"type":"quantitative","scale":{"domain":[-70,30],"range":[382.5,92],"nice":false,"zero":false},"axis":null},"y2":{"datum":30}}},
{"data":{"name":"hgrid"},"mark":{"type":"rule","color":"#6e6e6e","strokeWidth":1},"encoding":{"y":{"field":"dbm","type":"quantitative","scale":{"domain":[-70,30],"range":[382.5,92],"nice":false,"zero":false},"axis":null},"x":{"datum":0,"type":"quantitative","scale":{"domain":[0,5],"range":[19,679.4],"nice":false,"zero":false},"axis":null},"x2":{"datum":5}}},
{"data":{"name":"infobox"},"mark":{"type":"rect","color":"#ffffff"},"encoding":{"x":{"datum":2.9,"type":"quantitative","scale":{"domain":[0,5],"range":[19,679.4],"nice":false,"zero":false},"axis":null},"x2":{"datum":5},"y":{"datum":10.3,"type":"quantitative","scale":{"domain":[-70,30],"range":[382.5,92],"nice":false,"zero":false},"axis":null},"y2":{"datum":29.7}}},
{"data":{"name":"hgrid"},"mark":{"type":"text","align":"left","baseline":"middle","dx":5,"fontSize":10.5,"stroke":"#ffffff","strokeWidth":4,"fill":"#ffffff"},"encoding":{"x":{"datum":0,"type":"quantitative","scale":{"domain":[0,5],"range":[19,679.4],"nice":false,"zero":false},"axis":null},"y":{"field":"dbm","type":"quantitative","scale":{"domain":[-70,30],"range":[382.5,92],"nice":false,"zero":false},"axis":null},"text":{"field":"label"}}},
{"data":{"name":"hgrid"},"mark":{"type":"text","align":"left","baseline":"middle","dx":5,"fontSize":10.5,"fill":"#1a1a1a"},"encoding":{"x":{"datum":0,"type":"quantitative","scale":{"domain":[0,5],"range":[19,679.4],"nice":false,"zero":false},"axis":null},"y":{"field":"dbm","type":"quantitative","scale":{"domain":[-70,30],"range":[382.5,92],"nice":false,"zero":false},"axis":null},"text":{"field":"label"}}},
{"data":{"name":"tabline"},"mark":{"type":"line","color":"#444444","strokeWidth":1.2},"encoding":{"x":{"field":"cx","type":"quantitative","scale":{"domain":[0,686],"range":[0,686],"nice":false,"zero":false},"axis":null},"y":{"field":"cy","type":"quantitative","scale":{"domain":[0,538],"range":[0,538],"nice":false,"zero":false},"axis":null},"order":{"field":"k"}}},
{"data":{"name":"boxes"},"transform":[{"filter":"datum.kind=='icon'"}],"mark":{"type":"rect","fill":"#ffffff","stroke":"#333333","strokeWidth":1.3,"cornerRadius":4},"encoding":{"x":{"field":"l","type":"quantitative","scale":{"domain":[0,686],"range":[0,686],"nice":false,"zero":false},"axis":null},"x2":{"field":"r"},"y":{"field":"t","type":"quantitative","scale":{"domain":[0,538],"range":[0,538],"nice":false,"zero":false},"axis":null},"y2":{"field":"b"}}},
{"data":{"name":"boxes"},"transform":[{"filter":"datum.kind=='battery'"}],"mark":{"type":"rect","color":"#5a5a5a","cornerRadius":1},"encoding":{"x":{"field":"l","type":"quantitative","scale":{"domain":[0,686],"range":[0,686],"nice":false,"zero":false},"axis":null},"x2":{"field":"r"},"y":{"field":"t","type":"quantitative","scale":{"domain":[0,538],"range":[0,538],"nice":false,"zero":false},"axis":null},"y2":{"field":"b"}}},
{"data":{"name":"boxes"},"transform":[{"filter":"datum.kind=='frame'"}],"mark":{"type":"rect","filled":false,"color":"#1a1a1a","strokeWidth":2,"cornerRadius":5},"encoding":{"x":{"field":"l","type":"quantitative","scale":{"domain":[0,686],"range":[0,686],"nice":false,"zero":false},"axis":null},"x2":{"field":"r"},"y":{"field":"t","type":"quantitative","scale":{"domain":[0,538],"range":[0,538],"nice":false,"zero":false},"axis":null},"y2":{"field":"b"}}},
{"data":{"name":"boxes"},"transform":[{"filter":"datum.kind=='mbox'"}],"mark":{"type":"rect","filled":false,"color":"#666666","strokeWidth":1.5,"cornerRadius":5},"encoding":{"x":{"field":"l","type":"quantitative","scale":{"domain":[0,686],"range":[0,686],"nice":false,"zero":false},"axis":null},"x2":{"field":"r"},"y":{"field":"t","type":"quantitative","scale":{"domain":[0,538],"range":[0,538],"nice":false,"zero":false},"axis":null},"y2":{"field":"b"}}},
{"data":{"name":"boxes"},"transform":[{"filter":"datum.kind=='table'"}],"mark":{"type":"rect","filled":false,"color":"#8a8a8a","strokeWidth":1},"encoding":{"x":{"field":"l","type":"quantitative","scale":{"domain":[0,686],"range":[0,686],"nice":false,"zero":false},"axis":null},"x2":{"field":"r"},"y":{"field":"t","type":"quantitative","scale":{"domain":[0,538],"range":[0,538],"nice":false,"zero":false},"axis":null},"y2":{"field":"b"}}},
{"data":{"name":"boxes"},"transform":[{"filter":"datum.kind=='status'"}],"mark":{"type":"rect","filled":false,"color":"#666666","strokeWidth":1.2,"cornerRadius":4},"encoding":{"x":{"field":"l","type":"quantitative","scale":{"domain":[0,686],"range":[0,686],"nice":false,"zero":false},"axis":null},"x2":{"field":"r"},"y":{"field":"t","type":"quantitative","scale":{"domain":[0,538],"range":[0,538],"nice":false,"zero":false},"axis":null},"y2":{"field":"b"}}},
{"data":{"name":"boxes"},"transform":[{"filter":"datum.kind=='bar'"}],"mark":{"type":"rect","color":"#1b7bd4","cornerRadius":3},"encoding":{"x":{"field":"l","type":"quantitative","scale":{"domain":[0,686],"range":[0,686],"nice":false,"zero":false},"axis":null},"x2":{"field":"r"},"y":{"field":"t","type":"quantitative","scale":{"domain":[0,538],"range":[0,538],"nice":false,"zero":false},"axis":null},"y2":{"field":"b"}}},
{"data":{"name":"rules"},"transform":[{"filter":"datum.kind=='sep'"}],"mark":{"type":"rule","color":"#1a1a1a","strokeWidth":1.5},"encoding":{"x":{"field":"l","type":"quantitative","scale":{"domain":[0,686],"range":[0,686],"nice":false,"zero":false},"axis":null},"x2":{"field":"r"},"y":{"field":"t","type":"quantitative","scale":{"domain":[0,538],"range":[0,538],"nice":false,"zero":false},"axis":null},"y2":{"field":"b"}}},
{"data":{"name":"rules"},"transform":[{"filter":"datum.kind=='thead'"}],"mark":{"type":"rule","color":"#555555","strokeWidth":1.2},"encoding":{"x":{"field":"l","type":"quantitative","scale":{"domain":[0,686],"range":[0,686],"nice":false,"zero":false},"axis":null},"x2":{"field":"r"},"y":{"field":"t","type":"quantitative","scale":{"domain":[0,538],"range":[0,538],"nice":false,"zero":false},"axis":null},"y2":{"field":"b"}}},
{"data":{"name":"rules"},"transform":[{"filter":"datum.kind=='trow'"}],"mark":{"type":"rule","color":"#c8c8c8","strokeWidth":1},"encoding":{"x":{"field":"l","type":"quantitative","scale":{"domain":[0,686],"range":[0,686],"nice":false,"zero":false},"axis":null},"x2":{"field":"r"},"y":{"field":"t","type":"quantitative","scale":{"domain":[0,538],"range":[0,538],"nice":false,"zero":false},"axis":null},"y2":{"field":"b"}}},
{"data":{"name":"rules"},"transform":[{"filter":"datum.kind=='tcol'"}],"mark":{"type":"rule","color":"#9a9a9a","strokeWidth":1},"encoding":{"x":{"field":"l","type":"quantitative","scale":{"domain":[0,686],"range":[0,686],"nice":false,"zero":false},"axis":null},"x2":{"field":"r"},"y":{"field":"t","type":"quantitative","scale":{"domain":[0,538],"range":[0,538],"nice":false,"zero":false},"axis":null},"y2":{"field":"b"}}},
{"data":{"name":"rules"},"transform":[{"filter":"datum.kind=='sdiv'"}],"mark":{"type":"rule","color":"#d0d0d0","strokeWidth":1},"encoding":{"x":{"field":"l","type":"quantitative","scale":{"domain":[0,686],"range":[0,686],"nice":false,"zero":false},"axis":null},"x2":{"field":"r"},"y":{"field":"t","type":"quantitative","scale":{"domain":[0,538],"range":[0,538],"nice":false,"zero":false},"axis":null},"y2":{"field":"b"}}},
{"data":{"name":"rules"},"transform":[{"filter":"datum.kind=='sline'"}],"mark":{"type":"rule","color":"#444444","strokeWidth":2},"encoding":{"x":{"field":"l","type":"quantitative","scale":{"domain":[0,686],"range":[0,686],"nice":false,"zero":false},"axis":null},"x2":{"field":"r"},"y":{"field":"t","type":"quantitative","scale":{"domain":[0,538],"range":[0,538],"nice":false,"zero":false},"axis":null},"y2":{"field":"b"}}},
{"data":{"name":"rules"},"transform":[{"filter":"datum.kind=='bardiv'"}],"mark":{"type":"rule","color":"#ffffff","strokeWidth":1.2},"encoding":{"x":{"field":"l","type":"quantitative","scale":{"domain":[0,686],"range":[0,686],"nice":false,"zero":false},"axis":null},"x2":{"field":"r"},"y":{"field":"t","type":"quantitative","scale":{"domain":[0,538],"range":[0,538],"nice":false,"zero":false},"axis":null},"y2":{"field":"b"}}},
{"data":{"name":"dots"},"transform":[{"filter":"datum.kind=='green'"}],"mark":{"type":"point","shape":"circle","filled":true,"color":"#3cb44b","size":28,"opacity":1},"encoding":{"x":{"field":"cx","type":"quantitative","scale":{"domain":[0,686],"range":[0,686],"nice":false,"zero":false},"axis":null},"y":{"field":"cy","type":"quantitative","scale":{"domain":[0,538],"range":[0,538],"nice":false,"zero":false},"axis":null}}},
{"data":{"name":"dots"},"transform":[{"filter":"datum.kind=='blue'"}],"mark":{"type":"point","shape":"circle","filled":true,"color":"#1f2fe8","size":38,"opacity":1},"encoding":{"x":{"field":"cx","type":"quantitative","scale":{"domain":[0,686],"range":[0,686],"nice":false,"zero":false},"axis":null},"y":{"field":"cy","type":"quantitative","scale":{"domain":[0,538],"range":[0,538],"nice":false,"zero":false},"axis":null}}},
{"data":{"name":"texts"},"transform":[{"filter":"(datum.scr=='all'||datum.scr=='n20')&&datum.kind=='tab'"}],"mark":{"type":"text","align":"left","baseline":"middle","fontSize":13.5,"color":"#8c8c8c"},"encoding":{"x":{"field":"cx","type":"quantitative","scale":{"domain":[0,686],"range":[0,686],"nice":false,"zero":false},"axis":null},"y":{"field":"cy","type":"quantitative","scale":{"domain":[0,538],"range":[0,538],"nice":false,"zero":false},"axis":null},"text":{"field":"text"}}},
{"data":{"name":"texts"},"transform":[{"filter":"(datum.scr=='all'||datum.scr=='n20')&&datum.kind=='icon'"}],"mark":{"type":"text","align":"center","baseline":"middle","fontSize":11,"color":"#666666"},"encoding":{"x":{"field":"cx","type":"quantitative","scale":{"domain":[0,686],"range":[0,686],"nice":false,"zero":false},"axis":null},"y":{"field":"cy","type":"quantitative","scale":{"domain":[0,538],"range":[0,538],"nice":false,"zero":false},"axis":null},"text":{"field":"text"}}},
{"data":{"name":"texts"},"transform":[{"filter":"(datum.scr=='all'||datum.scr=='n20')&&datum.kind=='ib'"}],"mark":{"type":"text","align":"left","baseline":"middle","fontSize":10.5,"fontWeight":"bold","color":"#111111"},"encoding":{"x":{"field":"cx","type":"quantitative","scale":{"domain":[0,686],"range":[0,686],"nice":false,"zero":false},"axis":null},"y":{"field":"cy","type":"quantitative","scale":{"domain":[0,538],"range":[0,538],"nice":false,"zero":false},"axis":null},"text":{"field":"text"}}},
{"data":{"name":"texts"},"transform":[{"filter":"(datum.scr=='all'||datum.scr=='n20')&&datum.kind=='iv'"}],"mark":{"type":"text","align":"left","baseline":"middle","fontSize":10.3,"color":"#1a1a1a"},"encoding":{"x":{"field":"cx","type":"quantitative","scale":{"domain":[0,686],"range":[0,686],"nice":false,"zero":false},"axis":null},"y":{"field":"cy","type":"quantitative","scale":{"domain":[0,538],"range":[0,538],"nice":false,"zero":false},"axis":null},"text":{"field":"text"}}},
{"data":{"name":"texts"},"transform":[{"filter":"(datum.scr=='all'||datum.scr=='n20')&&datum.kind=='r'"}],"mark":{"type":"text","align":"right","baseline":"middle","fontSize":10.3,"color":"#1a1a1a"},"encoding":{"x":{"field":"cx","type":"quantitative","scale":{"domain":[0,686],"range":[0,686],"nice":false,"zero":false},"axis":null},"y":{"field":"cy","type":"quantitative","scale":{"domain":[0,538],"range":[0,538],"nice":false,"zero":false},"axis":null},"text":{"field":"text"}}},
{"data":{"name":"texts"},"transform":[{"filter":"(datum.scr=='all'||datum.scr=='n20')&&datum.kind=='ftc'"}],"mark":{"type":"text","align":"center","baseline":"middle","fontSize":10.5,"fontWeight":"bold","color":"#111111"},"encoding":{"x":{"field":"cx","type":"quantitative","scale":{"domain":[0,686],"range":[0,686],"nice":false,"zero":false},"axis":null},"y":{"field":"cy","type":"quantitative","scale":{"domain":[0,538],"range":[0,538],"nice":false,"zero":false},"axis":null},"text":{"field":"text"}}},
{"data":{"name":"texts"},"transform":[{"filter":"(datum.scr=='all'||datum.scr=='n20')&&datum.kind=='ftr'"}],"mark":{"type":"text","align":"right","baseline":"middle","fontSize":10.5,"fontWeight":"bold","color":"#111111"},"encoding":{"x":{"field":"cx","type":"quantitative","scale":{"domain":[0,686],"range":[0,686],"nice":false,"zero":false},"axis":null},"y":{"field":"cy","type":"quantitative","scale":{"domain":[0,538],"range":[0,538],"nice":false,"zero":false},"axis":null},"text":{"field":"text"}}},
{"data":{"name":"texts"},"transform":[{"filter":"(datum.scr=='all'||datum.scr=='n20')&&datum.kind=='th'"}],"mark":{"type":"text","align":"center","baseline":"middle","fontSize":10.8,"color":"#111111"},"encoding":{"x":{"field":"cx","type":"quantitative","scale":{"domain":[0,686],"range":[0,686],"nice":false,"zero":false},"axis":null},"y":{"field":"cy","type":"quantitative","scale":{"domain":[0,538],"range":[0,538],"nice":false,"zero":false},"axis":null},"text":{"field":"text"}}},
{"data":{"name":"texts"},"transform":[{"filter":"(datum.scr=='all'||datum.scr=='n20')&&datum.kind=='ready'"}],"mark":{"type":"text","align":"center","baseline":"middle","fontSize":10.5,"fontWeight":"bold","color":"#e6e6e6"},"encoding":{"x":{"field":"cx","type":"quantitative","scale":{"domain":[0,686],"range":[0,686],"nice":false,"zero":false},"axis":null},"y":{"field":"cy","type":"quantitative","scale":{"domain":[0,538],"range":[0,538],"nice":false,"zero":false},"axis":null},"text":{"field":"text"}}},
{"data":{"name":"texts"},"transform":[{"filter":"(datum.scr=='all'||datum.scr=='n20')&&datum.kind=='lxi'"}],"mark":{"type":"text","align":"center","baseline":"middle","fontSize":10.5,"fontWeight":"bold","fontStyle":"italic","color":"#8a8a8a"},"encoding":{"x":{"field":"cx","type":"quantitative","scale":{"domain":[0,686],"range":[0,686],"nice":false,"zero":false},"axis":null},"y":{"field":"cy","type":"quantitative","scale":{"domain":[0,538],"range":[0,538],"nice":false,"zero":false},"axis":null},"text":{"field":"text"}}},
{"data":{"name":"texts"},"transform":[{"filter":"(datum.scr=='all'||datum.scr=='n20')&&datum.kind=='sdate'"}],"mark":{"type":"text","align":"right","baseline":"middle","fontSize":8,"color":"#e4e4e4"},"encoding":{"x":{"field":"cx","type":"quantitative","scale":{"domain":[0,686],"range":[0,686],"nice":false,"zero":false},"axis":null},"y":{"field":"cy","type":"quantitative","scale":{"domain":[0,538],"range":[0,538],"nice":false,"zero":false},"axis":null},"text":{"field":"text"}}},
{"data":{"name":"texts"},"transform":[{"filter":"(datum.scr=='all'||datum.scr=='n20')&&datum.kind=='date'"}],"mark":{"type":"text","align":"left","baseline":"middle","font":"Liberation Mono","fontSize":10.7,"color":"#666666"},"encoding":{"x":{"field":"cx","type":"quantitative","scale":{"domain":[0,686],"range":[0,686],"nice":false,"zero":false},"axis":null},"y":{"field":"cy","type":"quantitative","scale":{"domain":[0,538],"range":[0,538],"nice":false,"zero":false},"axis":null},"text":{"field":"text"}}},
{"data":{"name":"texts"},"transform":[{"filter":"(datum.scr=='all'||datum.scr=='n20')&&datum.kind=='mil'"}],"mark":{"type":"text","align":"left","baseline":"middle","fontSize":10.5,"fontWeight":"bold","color":"#1f9de0"},"encoding":{"x":{"field":"cx","type":"quantitative","scale":{"domain":[0,686],"range":[0,686],"nice":false,"zero":false},"axis":null},"y":{"field":"cy","type":"quantitative","scale":{"domain":[0,538],"range":[0,538],"nice":false,"zero":false},"axis":null},"text":{"field":"text"}}},
{"data":{"name":"texts"},"transform":[{"filter":"(datum.scr=='all'||datum.scr=='n20')&&datum.kind=='mir'"}],"mark":{"type":"text","align":"right","baseline":"middle","fontSize":10.5,"fontWeight":"bold","color":"#1f9de0"},"encoding":{"x":{"field":"cx","type":"quantitative","scale":{"domain":[0,686],"range":[0,686],"nice":false,"zero":false},"axis":null},"y":{"field":"cy","type":"quantitative","scale":{"domain":[0,538],"range":[0,538],"nice":false,"zero":false},"axis":null},"text":{"field":"text"}}},
{"data":{"name":"trace_n20"},"mark":{"type":"line","color":"#3346ee","strokeWidth":1},"encoding":{"x":{"field":"t","type":"quantitative","scale":{"domain":[0,5],"range":[19,679.4],"nice":false,"zero":false},"axis":null},"y":{"field":"v","type":"quantitative","scale":{"domain":[-70,30],"range":[382.5,92],"nice":false,"zero":false},"axis":null}}},
{"data":{"name":"markers_n20"},"mark":{"type":"point","shape":"triangle-down","filled":true,"color":"#2ba2e4","size":45,"opacity":1,"yOffset":-3},"encoding":{"x":{"field":"t","type":"quantitative","scale":{"domain":[0,5],"range":[19,679.4],"nice":false,"zero":false},"axis":null},"y":{"field":"v","type":"quantitative","scale":{"domain":[-70,30],"range":[382.5,92],"nice":false,"zero":false},"axis":null}}},
{"data":{"name":"markers_n20"},"mark":{"type":"text","color":"#2ba2e4","fontSize":11,"dy":-13.5,"baseline":"middle","align":"center"},"encoding":{"x":{"field":"t","type":"quantitative","scale":{"domain":[0,5],"range":[19,679.4],"nice":false,"zero":false},"axis":null},"y":{"field":"v","type":"quantitative","scale":{"domain":[-70,30],"range":[382.5,92],"nice":false,"zero":false},"axis":null},"text":{"field":"m"}}}
]},
{"width":686,"height":34,"view":{"stroke":"#000","strokeWidth":1},"data":{"name":"titles"},"transform":[{"filter":"datum.row=='Duty Cycle NVNT n40 5190MHz Ant1'"}],"mark":{"type":"text","font":"Liberation Sans","fontSize":23,"baseline":"middle","color":"#000"},"encoding":{"x":{"field":"row","type":"nominal","axis":null},"y":{"field":"row","type":"nominal","axis":null},"text":{"field":"row"}}}
]
}
